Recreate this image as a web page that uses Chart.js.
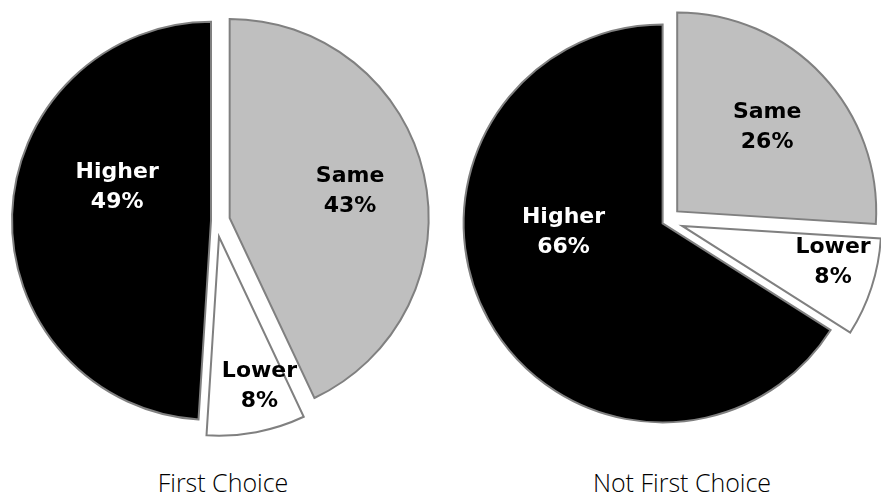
<!DOCTYPE html>
<html>
<head>
<meta charset="utf-8">
<script src="https://cdn.jsdelivr.net/npm/chart.js@4/dist/chart.umd.min.js"></script>
<style>
  html, body { margin: 0; padding: 0; background: #fff; overflow: hidden; }
  #wrap { position: relative; width: 881px; height: 495px; overflow: hidden; }
  canvas { position: absolute; top: 0; }
  .cap {
    position: absolute; width: 240px; text-align: center;
    font-family: "Open Sans", "DejaVu Sans", sans-serif; font-weight: 300;
    font-size: 25px; line-height: 28px; color: #000; top: 468px;
  }
</style>
</head>
<body>
<div id="wrap">
  <canvas id="c1" width="440" height="442" style="left:-4px"></canvas>
  <canvas id="c2" width="440" height="442" style="left:447px"></canvas>
  <div class="cap" id="t1" style="left:103px"></div>
  <div class="cap" id="t2" style="left:562px"></div>
</div>
<script>
// Answer categories, in drawing order (clockwise from 12 o'clock)
const categories = ['Same', 'Lower', 'Higher'];
// Share of respondents (%) per group
const firstChoice = [43, 8, 49];
const notFirstChoice = [26, 8, 66];
const groupTitles = ['First Choice', 'Not First Choice'];

const sliceFill = ['#bfbfbf', '#ffffff', '#000000'];
const labelColor = ['#000000', '#000000', '#ffffff'];
// how far each slice is pulled out from the centre, px
const sliceShift = [14, 16, 5];
// where each label sits inside its slice: share of the slice angle, share of radius
const labelAngleT = [0.5, 0.35, 0.6];
const labelRadius = [0.62, 0.78, 0.5];

function shiftOf(arc, i) {
  const mid = (arc.startAngle + arc.endAngle) / 2;
  return [Math.cos(mid) * sliceShift[i], Math.sin(mid) * sliceShift[i]];
}

// exploded pie: each arc is drawn by the library, moved out along its bisector
const explode = {
  id: 'explode',
  beforeDatasetDraw(chart, args) {
    const ctx = chart.ctx;
    args.meta.data.forEach((arc, i) => {
      const [dx, dy] = shiftOf(arc, i);
      ctx.save();
      ctx.translate(dx, dy);
      arc.draw(ctx, chart.chartArea);
      ctx.restore();
    });
    return false;
  }
};

const sliceLabels = {
  id: 'sliceLabels',
  afterDatasetsDraw(chart) {
    const ctx = chart.ctx;
    const meta = chart.getDatasetMeta(0);
    const values = chart.data.datasets[0].data;
    ctx.save();
    ctx.font = 'bold 22px "DejaVu Sans", sans-serif';
    ctx.textAlign = 'center';
    ctx.textBaseline = 'middle';
    meta.data.forEach((arc, i) => {
      const [dx, dy] = shiftOf(arc, i);
      const a = arc.startAngle + (arc.endAngle - arc.startAngle) * labelAngleT[i];
      const r = arc.outerRadius * labelRadius[i];
      const lx = arc.x + dx + Math.cos(a) * r;
      const ly = arc.y + dy + Math.sin(a) * r;
      ctx.fillStyle = labelColor[i];
      ctx.fillText(chart.data.labels[i], lx, ly - 15);
      ctx.fillText(values[i] + '%', lx, ly + 15);
    });
    ctx.restore();
  }
};

function makePie(id, values) {
  return new Chart(document.getElementById(id), {
    type: 'pie',
    data: {
      labels: categories,
      datasets: [{
        data: values,
        backgroundColor: sliceFill,
        borderColor: '#808080',
        borderWidth: 2,
        borderJoinStyle: 'miter'
      }]
    },
    options: {
      responsive: false,
      animation: false,
      radius: 199,
      events: [],
      plugins: { legend: { display: false }, tooltip: { enabled: false } }
    },
    plugins: [explode, sliceLabels]
  });
}

makePie('c1', firstChoice);
makePie('c2', notFirstChoice);
document.getElementById('t1').textContent = groupTitles[0];
document.getElementById('t2').textContent = groupTitles[1];
</script>
</body>
</html>
